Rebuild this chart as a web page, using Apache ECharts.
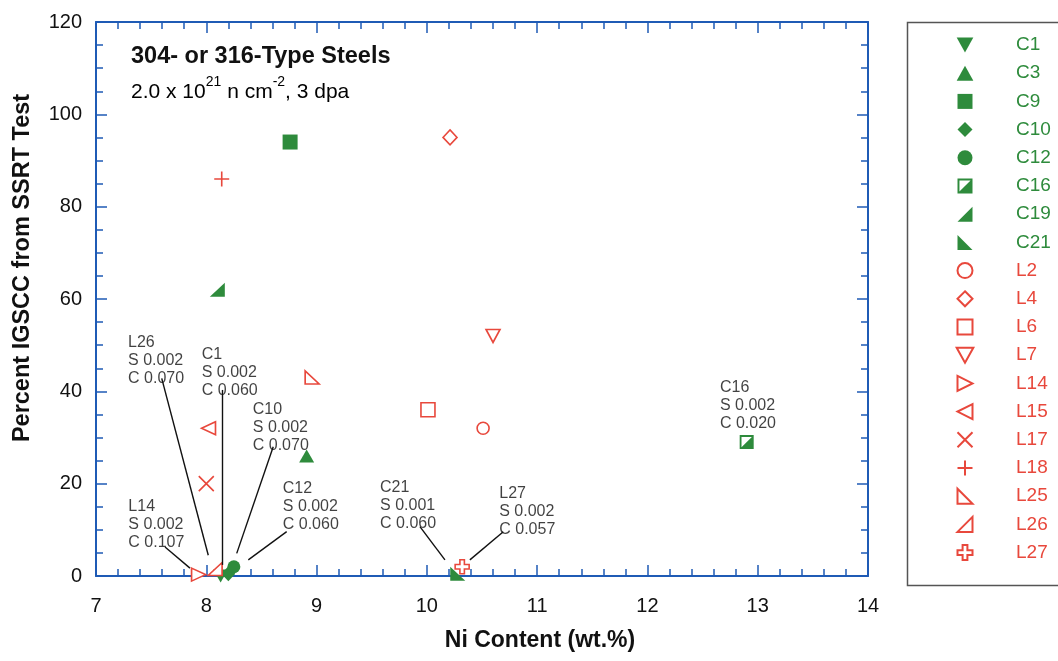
<!DOCTYPE html>
<html>
<head>
<meta charset="utf-8">
<script src="https://cdn.jsdelivr.net/npm/echarts@6/dist/echarts.min.js"></script>
<style>
html,body{margin:0;padding:0;background:#fff;}
#chart{width:1058px;height:661px;}
</style>
</head>
<body>
<div id="chart"></div>
<script>
// ---- data ----
const specimenNames = ['C1','C3','C9','C10','C12','C16','C19','C21','L2','L4','L6','L7','L14','L15','L17','L18','L25','L26','L27'];
const niContent = [8.13, 8.91, 8.76, 8.20, 8.25, 12.90, 8.10, 10.28, 10.51, 10.21, 10.01, 10.60, 7.93, 8.02, 8.00, 8.14, 8.96, 8.08, 10.32];
const igsccPercent = [0, 26, 94, 0.5, 2, 29, 62, 0.5, 32, 95, 36, 52, 0.3, 32, 20, 86, 43, 1.5, 2];

const xTicks = [7, 8, 9, 10, 11, 12, 13, 14];
const yTicks = [0, 20, 40, 60, 80, 100, 120];

// annotations: specimen, S, C
const annoNames = ['L26','C1','C10','C12','L14','C21','L27','C16'];
const annoS = ['0.002','0.002','0.002','0.002','0.002','0.001','0.002','0.002'];
const annoC = ['0.070','0.060','0.070','0.060','0.107','0.060','0.057','0.020'];
// label anchor (top-left of text) in data units
const annoTextX = [7.29, 7.958, 8.421, 8.693, 7.293, 9.575, 10.656, 12.657];
const annoTextY = [52.6, 50.0, 38.1, 20.8, 16.9, 21.2, 19.7, 42.8];
// leader lines in data units; C16 has none
const leaderFromX = [7.596, 8.149, 8.607, 8.729, 7.626, 9.937, 10.693];
const leaderFromY = [42.8, 40.3, 28.0, 9.6, 6.3, 10.7, 9.6];
const leaderToX = [8.018, 8.149, 8.276, 8.381, 7.852, 10.164, 10.39];
const leaderToY = [4.5, 2.4, 4.9, 3.5, 1.7, 3.5, 3.5];

// ---- styles ----
const GREEN = '#2e8b3c';
const RED = '#e8483c';
const AXIS = '#1f5bb5';
const FONT = '"Liberation Sans", Arial, sans-serif';

const RECT = 'path://M0,0L10,0L10,10L0,10Z';
const DIAMOND = 'path://M5,0L10,5L5,10L0,5Z';

const symbolDefs = {
  C1:  {s:'path://M0,0L10,0L5,9Z', size:[15,13], filled:true},
  C3:  {s:'path://M5,0L10,9L0,9Z', size:[15,13], filled:true},
  C9:  {s:RECT, size:15, filled:true},
  C10: {s:DIAMOND, size:[14,15], filled:true},
  C12: {s:'circle', size:13, filled:true},
  C16: {s:'path://M0,0L10,0L10,10L0,10Z M1.3,1.3L1.3,8.7L8.7,1.3Z', size:14, filled:true},
  C19: {s:'path://M0,10L10,10L10,0Z', size:[15,14], filled:true},
  C21: {s:'path://M0,0L0,10L10,10Z', size:[15,14], filled:true},
  L2:  {s:'circle', size:12, filled:false},
  L4:  {s:DIAMOND, size:[14,15], filled:false},
  L6:  {s:RECT, size:14, filled:false},
  L7:  {s:'path://M0,0L10,0L5,9Z', size:[14,13], filled:false},
  L14: {s:'path://M0,0L10,5L0,10Z', size:[14,13], filled:false},
  L15: {s:'path://M10,0L0,5L10,10Z', size:[14,13], filled:false},
  L17: {s:'path://M0,0L10,10M10,0L0,10', size:15, filled:false, line:true},
  L18: {s:'path://M5,0L5,10M0,5L10,5', size:15, filled:false, line:true},
  L25: {s:'path://M0,0L0,10L10,10Z', size:[14,13], filled:false},
  L26: {s:'path://M0,10L10,10L10,0Z', size:[14,13], filled:false},
  L27: {s:'path://M3.4,0L6.6,0L6.6,3.4L10,3.4L10,6.6L6.6,6.6L6.6,10L3.4,10L3.4,6.6L0,6.6L0,3.4L3.4,3.4Z', size:14, filled:false}
};

const chart = echarts.init(document.getElementById('chart'), null, {renderer:'canvas'});

const series = specimenNames.map((name, i) => {
  const d = symbolDefs[name];
  const col = name[0] === 'C' ? GREEN : RED;
  return {
    name: name,
    type: 'scatter',
    xAxisIndex: 0, yAxisIndex: 0,
    symbol: d.s,
    symbolSize: d.size,
    symbolKeepAspect: false,
    data: [[niContent[i], igsccPercent[i]]],
    itemStyle: d.filled ? {color: col, borderWidth: 0, opacity: 1}
                        : {color: d.line ? 'none' : '#fff', borderColor: col, borderWidth: 1.6, opacity: 1},
    emphasis: {disabled: true},
    z: 3
  };
});

// annotation texts and leader lines
series.push({
  name: '__annotations',
  type: 'scatter',
  xAxisIndex: 0, yAxisIndex: 0,
  symbolSize: 0.1,
  itemStyle: {color: 'rgba(0,0,0,0)'},
  silent: true,
  emphasis: {disabled: true},
  z: 2,
  data: annoNames.map((n, i) => ({
    value: [annoTextX[i], annoTextY[i]],
    label: {
      show: true,
      position: 'right',
      distance: 0,
      align: 'left',
      verticalAlign: 'top',
      formatter: n + '\nS ' + annoS[i] + '\nC ' + annoC[i],
      fontFamily: FONT,
      fontSize: 16,
      lineHeight: 18,
      color: '#111'
    }
  })),
  markLine: {
    silent: true,
    symbol: ['none', 'none'],
    animation: false,
    label: {show: false},
    lineStyle: {color: '#111', width: 1.4, type: 'solid'},
    emphasis: {disabled: true},
    data: leaderFromX.map((x, i) => [
      {coord: [x, leaderFromY[i]]},
      {coord: [leaderToX[i], leaderToY[i]]}
    ])
  }
});

const axisCommonX = {
  type: 'value', min: 7, max: 14, interval: 1,
  axisLine: {show: true, onZero: false, lineStyle: {color: AXIS, width: 2}},
  axisTick: {show: true, inside: true, length: 11, lineStyle: {color: AXIS, width: 1.5}},
  minorTick: {show: true, splitNumber: 5, length: 7, lineStyle: {color: AXIS, width: 1.5}},
  splitLine: {show: false}
};
const axisCommonY = {
  type: 'value', min: 0, max: 120, interval: 20,
  axisLine: {show: true, onZero: false, lineStyle: {color: AXIS, width: 2}},
  axisTick: {show: true, inside: true, length: 11, lineStyle: {color: AXIS, width: 1.5}},
  minorTick: {show: true, splitNumber: 4, length: 7, lineStyle: {color: AXIS, width: 1.5}},
  splitLine: {show: false}
};

const option = {
  animation: false,
  backgroundColor: '#fff',
  textStyle: {fontFamily: FONT},
  grid: {left: 96, right: 190, top: 22, bottom: 85, containLabel: false},
  xAxis: [
    Object.assign({}, axisCommonX, {
      position: 'bottom',
      axisLabel: {show: true, margin: 20, fontSize: 20, color: '#111', fontFamily: FONT,
        formatter: v => xTicks.includes(v) ? String(v) : ''}
    }),
    Object.assign({}, axisCommonX, {position: 'top', axisLabel: {show: false}})
  ],
  yAxis: [
    Object.assign({}, axisCommonY, {
      position: 'left',
      axisLabel: {show: true, margin: 14, fontSize: 20, color: '#111', fontFamily: FONT,
        formatter: v => yTicks.includes(v) ? String(v) : ''}
    }),
    Object.assign({}, axisCommonY, {position: 'right', axisLabel: {show: false}})
  ],
  legend: {
    orient: 'vertical',
    left: 955,
    top: 35,
    padding: 0,
    itemWidth: 18,
    itemHeight: 15,
    itemGap: 8.2,
    selectedMode: false,
    textStyle: {fontFamily: FONT, fontSize: 19, lineHeight: 20, padding: [0, 0, 0, 37]},
    data: specimenNames.map(n => ({
      name: n,
      textStyle: {color: n[0] === 'C' ? GREEN : RED}
    }))
  },
  graphic: [
    {type: 'rect', left: 905, top: 20, silent: true,
      shape: {width: 200, height: 563},
      style: {fill: 'none', stroke: '#555', lineWidth: 1.5}},
    {type: 'text', x: 131, y: 57, silent: true,
      style: {text: '304- or 316-Type Steels', font: 'bold 23.5px ' + FONT, fill: '#111',
        textAlign: 'left', textVerticalAlign: 'middle'}},
    {type: 'text', x: 131, y: 89, silent: true,
      style: {
        text: '{n|2.0 x 10}{s|21}{n| n cm}{s|-2}{n|, 3 dpa}',
        textAlign: 'left', textVerticalAlign: 'middle',
        rich: {
          n: {fontFamily: FONT, fontSize: 21, color: '#111', lineHeight: 28, verticalAlign: 'bottom'},
          s: {fontFamily: FONT, fontSize: 14, color: '#111', lineHeight: 18, verticalAlign: 'top'}
        }
      }},
    {type: 'text', x: 540, y: 641, silent: true,
      style: {text: 'Ni Content (wt.%)', font: 'bold 23px ' + FONT, fill: '#111',
        textAlign: 'center', textVerticalAlign: 'middle'}},
    {type: 'text', x: 23, y: 268, rotation: Math.PI / 2, silent: true,
      style: {text: 'Percent IGSCC from SSRT Test', font: 'bold 23.5px ' + FONT, fill: '#111',
        textAlign: 'center', textVerticalAlign: 'middle'}}
  ],
  series: series
};

chart.setOption(option);
</script>
</body>
</html>
